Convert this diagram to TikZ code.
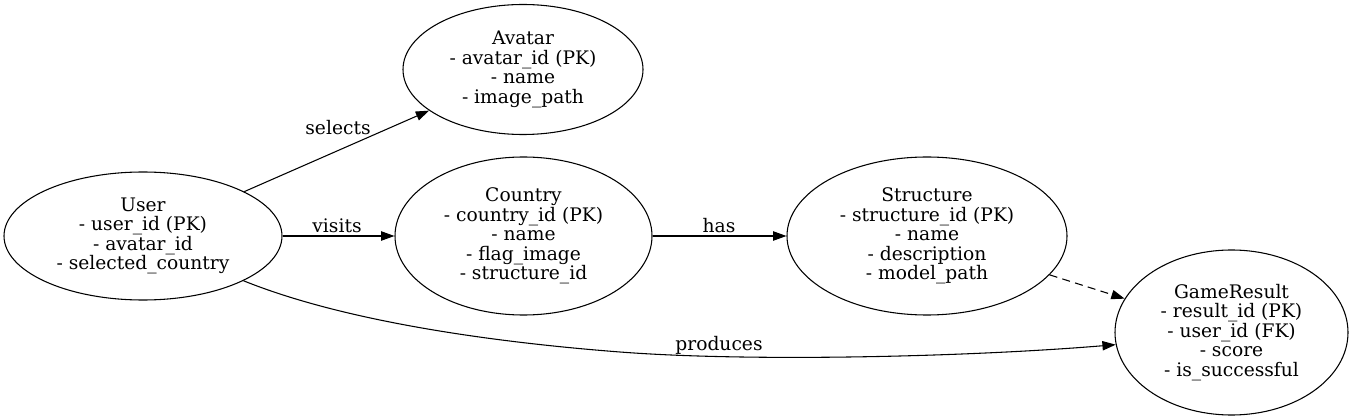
\documentclass[tikz,border=0pt]{standalone}
\usepackage{fontspec}
\setmainfont{DejaVu Serif}
\usetikzlibrary{shapes.geometric,arrows.meta}
\begin{document}
\begin{tikzpicture}[x=0.75pt,y=-0.75pt,inner sep=0pt,
  font=\fontsize{14}{14.6}\selectfont,
  ent/.style={draw,ellipse,align=center,line width=0.8pt},
  rel/.style={-{Triangle[length=10pt,width=7pt]},line width=0.8pt}]

\useasboundingbox (0,0) rectangle (1353,420);

\node[ent,minimum width=208.5pt,minimum height=96pt](user) at (143,236) {User\\- user\_id (PK)\\- avatar\_id\\- selected\_country};
\node[ent,minimum width=180pt,minimum height=97.5pt](avatar) at (523,69.5) {Avatar\\- avatar\_id (PK)\\- name\\- image\_path};
\node[ent,minimum width=192.75pt,minimum height=118.5pt](country) at (523.5,236) {Country\\- country\_id (PK)\\- name\\- flag\_image\\- structure\_id};
\node[ent,minimum width=210pt,minimum height=118.5pt](struct) at (927,236) {Structure\\- structure\_id (PK)\\- name\\- description\\- model\_path};
\node[ent,minimum width=174.75pt,minimum height=123.75pt](game) at (1231.5,332.5) {GameResult\\- result\_id (PK)\\- user\_id (FK)\\- score\\- is\_successful};

\node(lsel) at (338,128) {selects};
\node(lvis) at (337,226) {visits};
\node(lhas) at (719,226) {has};
\node(lprod) at (719,345) {produces};

\coordinate(pm) at (620,352);

\draw[rel] (user) -- (avatar);
\draw[rel] (user) -- (country);
\draw[rel] (country) -- (struct);
\draw[rel,dash pattern=on 6pt off 4pt] (struct) -- (game);
\draw[rel] (user.-24) .. controls (343,321) and (490,342) .. (pm)
  .. controls (750,362) and (967,357) .. (game.186);

\end{tikzpicture}
\end{document}
